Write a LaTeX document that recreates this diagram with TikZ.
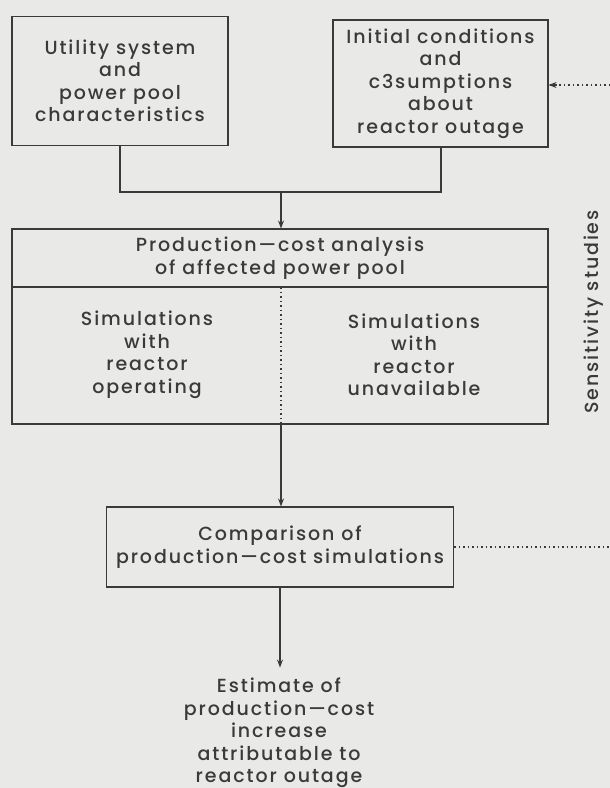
\documentclass[tikz,border=0pt]{standalone}
\usepackage{fontspec}
\setmainfont{Poppins}[UprightFont=* Medium,LetterSpace=10]
\usetikzlibrary{arrows.meta}
\definecolor{paper}{HTML}{E9E9E7}
\definecolor{ink}{HTML}{3A3A3A}
\begin{document}
\begin{tikzpicture}[x=1pt,y=-1pt,
  every node/.style={text=ink},
  boxed/.style={draw=ink,line width=1.1pt,inner sep=0pt,align=center,
    font=\fontsize{19}{22.5}\selectfont},
  plain/.style={inner sep=0pt,align=center,font=\fontsize{19}{22.5}\selectfont},
  conn/.style={draw=ink,line width=1.1pt},
  arr/.style={conn,-{Stealth[length=8pt,width=6pt]}},
  dotline/.style={draw=ink,line width=1.1pt,dash pattern=on 1.5pt off 3pt}
]
\fill[paper] (0,0) rectangle (610,788);
\useasboundingbox (0,0) rectangle (610,788);

\node[boxed,minimum width=216pt,minimum height=129pt] (util) at (120,81)
  {Utility system\\and\\power pool\\characteristics};
\node[boxed,minimum width=215pt,minimum height=127pt] (init) at (440.5,83.5)
  {Initial conditions\\and\\c3sumptions\\about\\reactor outage};

\node[boxed,minimum width=536pt,minimum height=58pt] (prod) at (280,258)
  {Production---cost analysis\\of affected power pool};
\node[boxed,minimum width=536pt,minimum height=137pt] (sims) at (280,355.5) {};
\node[plain] (simop) at (147,355) {Simulations\\with\\reactor\\operating};
\node[plain] (simun) at (414,355) {Simulations\\with\\reactor\\unavailable};

\node[boxed,minimum width=347pt,minimum height=80pt] (comp) at (280,547)
  {Comparison of\\production---cost simulations};

\node[plain] (est) at (279,733)
  {Estimate of\\production---cost\\increase\\attributable to\\reactor outage};

\node[plain,rotate=90] (sens) at (594,312) {Sensitivity studies};

% junction
\coordinate (jl) at (120,192);
\coordinate (jm) at (281,192);
\coordinate (jr) at (441,192);
\draw[conn] (util.south) -- (jl) -- (jr) -- (init.south -| jr);
\draw[arr] (jm) -- (prod.north -| jm);

% divider
\coordinate (dtop) at (281,287);
\coordinate (dbot) at (281,424);
\draw[dotline] (dtop) -- (dbot);

\draw[arr] (dbot) -- (comp.north -| dbot);
\draw[arr] (comp.south) -- ++(0,80) coordinate (esttip);

% sensitivity loop
\coordinate (fb1) at (610,85);
\coordinate (fb2) at (610,547);
\draw[dotline] (comp.east) -- (fb2);
\draw[dotline] (fb1) -- (init.east |- fb1);
\draw[conn,-{Stealth[length=8pt,width=6pt]}] ([xshift=8pt]init.east |- fb1) -- (init.east |- fb1);
\end{tikzpicture}
\end{document}
